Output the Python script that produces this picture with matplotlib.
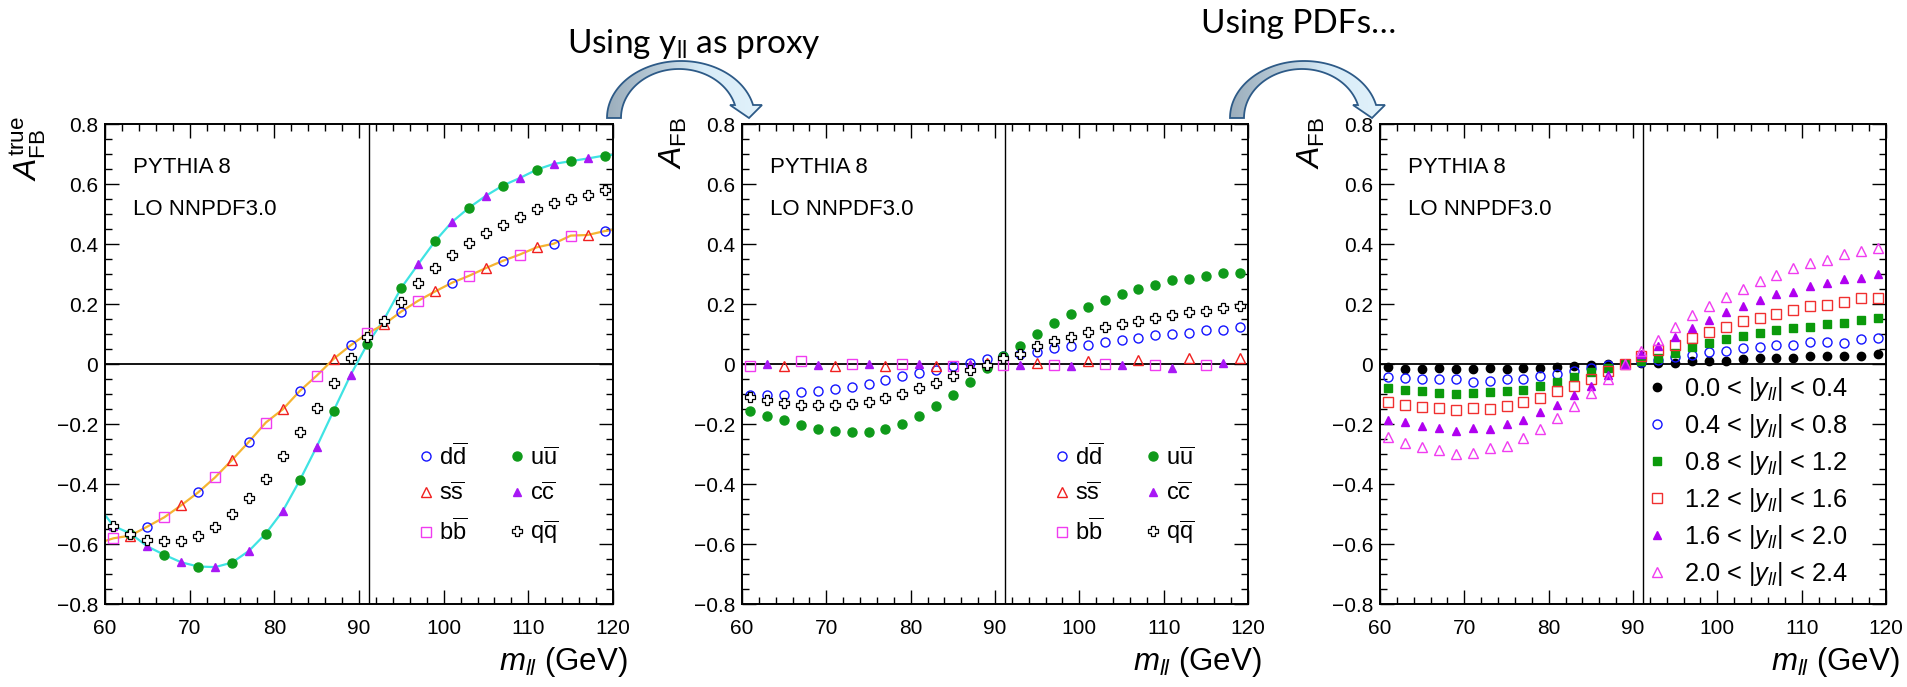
import numpy as np
import matplotlib
matplotlib.use("Agg")
import matplotlib.pyplot as plt
from matplotlib.ticker import MultipleLocator
from matplotlib.patches import PathPatch
from matplotlib.path import Path
from matplotlib.colors import LinearSegmentedColormap

plt.rcParams['font.family'] = ['Liberation Sans', 'DejaVu Sans']
plt.rcParams['mathtext.fontset'] = 'custom'
plt.rcParams['mathtext.rm'] = 'Liberation Sans'
plt.rcParams['mathtext.it'] = 'Liberation Sans:italic'
plt.rcParams['mathtext.bf'] = 'Liberation Sans:bold'

# m_ll bin centres (GeV)
mass = [61, 63, 65, 67, 69, 71, 73, 75, 77, 79, 81, 83, 85, 87, 89,
        91, 93, 95, 97, 99, 101, 103, 105, 107, 109, 111, 113, 115, 117, 119]

# ---- left panel: true A_FB per flavour
d_true_x = [65, 71, 77, 83, 89, 95, 101, 107, 113, 119]
d_true = [-0.542, -0.428, -0.259, -0.090, 0.062, 0.175, 0.271, 0.344, 0.401, 0.443]
s_true_x = [63, 69, 75, 81, 87, 93, 99, 105, 111, 117]
s_true = [-0.572, -0.471, -0.320, -0.151, 0.017, 0.133, 0.242, 0.320, 0.389, 0.430]
b_true_x = [61, 67, 73, 79, 85, 91, 97, 103, 109, 115]
b_true = [-0.581, -0.511, -0.378, -0.195, -0.039, 0.102, 0.211, 0.294, 0.365, 0.428]
u_true_x = [63, 67, 71, 75, 79, 83, 87, 91, 95, 99, 103, 107, 111, 115, 119]
u_true = [-0.565, -0.636, -0.675, -0.662, -0.565, -0.388, -0.156, 0.067, 0.254,
          0.410, 0.521, 0.595, 0.648, 0.676, 0.695]
c_true_x = [61, 65, 69, 73, 77, 81, 85, 89, 93, 97, 101, 105, 109, 113, 117]
c_true = [-0.540, -0.608, -0.661, -0.677, -0.623, -0.490, -0.276, -0.037, 0.151,
          0.333, 0.474, 0.561, 0.620, 0.667, 0.685]
q_true = [-0.540, -0.565, -0.585, -0.591, -0.590, -0.572, -0.544, -0.500, -0.448, -0.382,
          -0.307, -0.227, -0.145, -0.064, 0.021, 0.089, 0.143, 0.208, 0.269, 0.319,
          0.364, 0.403, 0.436, 0.464, 0.491, 0.517, 0.536, 0.551, 0.562, 0.579]
# fit curve end values at 60 and 120 GeV
up_fit_ends = [-0.503, 0.697]
down_fit_ends = [-0.590, 0.447]

# ---- middle panel: A_FB using y_ll as proxy
d_proxy = [-0.102, -0.102, -0.102, -0.094, -0.090, -0.082, -0.076, -0.066, -0.052, -0.041,
           -0.030, -0.019, -0.006, 0.005, 0.017, 0.026, 0.034, 0.040, 0.054, 0.059,
           0.065, 0.075, 0.081, 0.088, 0.097, 0.101, 0.105, 0.113, 0.115, 0.123]
u_proxy = [-0.156, -0.172, -0.188, -0.202, -0.216, -0.223, -0.227, -0.227, -0.218, -0.201,
           -0.173, -0.141, -0.102, -0.061, -0.014, 0.026, 0.061, 0.100, 0.136, 0.166,
           0.191, 0.213, 0.234, 0.251, 0.262, 0.279, 0.283, 0.292, 0.302, 0.304]
q_proxy = [-0.110, -0.120, -0.131, -0.135, -0.138, -0.135, -0.132, -0.125, -0.113, -0.099,
           -0.081, -0.062, -0.041, -0.021, -0.002, 0.020, 0.034, 0.059, 0.076, 0.091,
           0.106, 0.122, 0.133, 0.143, 0.155, 0.163, 0.173, 0.178, 0.186, 0.193]
b_proxy_x = [61, 67, 73, 79, 85, 91, 97, 103, 109, 115]
b_proxy = [-0.008, 0.010, 0.0, 0.0, -0.005, -0.003, -0.002, 0.0, -0.003, -0.002]
s_proxy_x = [65, 71, 77, 83, 89, 95, 101, 107, 113, 119]
s_proxy = [-0.007, -0.005, -0.005, -0.008, 0.003, 0.003, 0.009, 0.014, 0.021, 0.021]
c_proxy_x = [63, 69, 75, 81, 87, 93, 99, 105, 111, 117]
c_proxy = [0.0, -0.004, 0.0, 0.0, 0.0, -0.004, -0.007, -0.004, -0.014, 0.002]

# ---- right panel: A_FB in |y_ll| slices
y_bins = ['0.0 < |$y_{ll}$| < 0.4', '0.4 < |$y_{ll}$| < 0.8', '0.8 < |$y_{ll}$| < 1.2',
          '1.2 < |$y_{ll}$| < 1.6', '1.6 < |$y_{ll}$| < 2.0', '2.0 < |$y_{ll}$| < 2.4']
afb_y00 = [-0.011, -0.016, -0.016, -0.014, -0.016, -0.016, -0.012, -0.016, -0.014, -0.012,
           -0.011, -0.005, -0.004, 0.001, 0.001, 0.004, 0.004, 0.005, 0.009, 0.010,
           0.011, 0.017, 0.019, 0.019, 0.019, 0.026, 0.027, 0.027, 0.027, 0.035]
afb_y04 = [-0.042, -0.046, -0.050, -0.050, -0.051, -0.059, -0.056, -0.050, -0.049, -0.040,
           -0.032, -0.024, -0.014, -0.002, 0.001, 0.006, 0.014, 0.024, 0.031, 0.039,
           0.042, 0.052, 0.057, 0.062, 0.064, 0.074, 0.074, 0.070, 0.085, 0.087]
afb_y08 = [-0.081, -0.085, -0.091, -0.095, -0.099, -0.095, -0.094, -0.090, -0.085, -0.074,
           -0.059, -0.042, -0.025, -0.012, 0.0, 0.010, 0.021, 0.037, 0.056, 0.069,
           0.082, 0.094, 0.102, 0.112, 0.120, 0.125, 0.133, 0.137, 0.146, 0.153]
afb_y12 = [-0.127, -0.136, -0.143, -0.148, -0.153, -0.148, -0.150, -0.141, -0.128, -0.112,
           -0.091, -0.072, -0.049, -0.024, 0.0, 0.027, 0.047, 0.064, 0.087, 0.106,
           0.123, 0.143, 0.155, 0.167, 0.180, 0.192, 0.197, 0.208, 0.219, 0.219]
afb_y16 = [-0.185, -0.192, -0.206, -0.213, -0.222, -0.214, -0.217, -0.201, -0.185, -0.161,
           -0.135, -0.103, -0.074, -0.036, 0.0, 0.032, 0.061, 0.091, 0.120, 0.146,
           0.173, 0.192, 0.212, 0.232, 0.241, 0.261, 0.271, 0.283, 0.287, 0.299]
afb_y20 = [-0.244, -0.263, -0.278, -0.288, -0.299, -0.297, -0.281, -0.274, -0.248, -0.218,
           -0.180, -0.141, -0.095, -0.049, 0.0, 0.045, 0.081, 0.122, 0.162, 0.195,
           0.223, 0.249, 0.276, 0.298, 0.319, 0.338, 0.348, 0.368, 0.377, 0.387]

m_z = 91.19
flavour_labels = [r'$\mathrm{d}\overline{\mathrm{d}}$', r'$\mathrm{s}\overline{\mathrm{s}}$',
                  r'$\mathrm{b}\overline{\mathrm{b}}$', r'$\mathrm{u}\overline{\mathrm{u}}$',
                  r'$\mathrm{c}\overline{\mathrm{c}}$', r'$\mathrm{q}\overline{\mathrm{q}}$']

BLUE, RED, MAG, GREEN, VIOL = '#1414ff', '#f02020', '#f03cf0', '#0f9a1a', '#a818f5'

W, H = 1907, 687
fig = plt.figure(figsize=(W / 100, H / 100), dpi=100)
lefts = [105, 742, 1380]
widths = [508, 506, 506]
axs = [fig.add_axes([l / W, (H - 604) / H, w / W, 480 / H]) for l, w in zip(lefts, widths)]


def style(ax, ylab, ylab_x):
    ax.set_xlim(60, 120)
    ax.set_ylim(-0.8, 0.8)
    ax.set_xticks([60, 70, 80, 90, 100, 110, 120])
    ax.set_yticks([-0.8, -0.6, -0.4, -0.2, 0, 0.2, 0.4, 0.6, 0.8])
    ax.set_yticklabels(['\u22120.8', '\u22120.6', '\u22120.4', '\u22120.2', '0',
                        '0.2', '0.4', '0.6', '0.8'])
    ax.xaxis.set_minor_locator(MultipleLocator(2))
    ax.yaxis.set_minor_locator(MultipleLocator(0.05))
    ax.tick_params(which='both', direction='in', top=True, right=True, width=1.0)
    ax.tick_params(which='major', length=10, labelsize=15)
    ax.tick_params(which='minor', length=5)
    ax.tick_params(axis='x', which='major', pad=11)
    ax.tick_params(axis='y', which='major', pad=5)
    for sp in ax.spines.values():
        sp.set_linewidth(1.4)
    ax.axhline(0, color='black', lw=1.3, zorder=1)
    ax.axvline(m_z, color='black', lw=1.0, zorder=1)
    ax.set_xlabel(r'$m_{ll}$ (GeV)', fontsize=22.5, loc='right')
    ax.xaxis.set_label_coords(1.028, -0.085)
    ax.set_ylabel(ylab, fontsize=23, loc='top')
    ax.yaxis.set_label_coords(ylab_x, 1.015)
    ax.text(0.055, 0.91, 'PYTHIA 8', transform=ax.transAxes, fontsize=16, va='center')
    ax.text(0.055, 0.821, 'LO NNPDF3.0', transform=ax.transAxes, fontsize=16, va='center')


ms = 6.5
open_kw = dict(ls='none', mfc='none', mew=1.0, ms=ms)
cross_kw = dict(ls='none', mfc='white', mec='black', mew=0.9, ms=ms)

# left panel
ax = axs[0]
style(ax, r'$A_{\mathrm{FB}}^{\mathrm{true}}$', -0.112)
up = sorted(zip(u_true_x + c_true_x, u_true + c_true))
dn = sorted(zip(d_true_x + s_true_x + b_true_x, d_true + s_true + b_true))
ax.plot([60] + [p[0] for p in up] + [120], [up_fit_ends[0]] + [p[1] for p in up] + [up_fit_ends[1]],
        color='#3fe3e3', lw=1.6, zorder=2)
ax.plot([60] + [p[0] for p in dn] + [120], [down_fit_ends[0]] + [p[1] for p in dn] + [down_fit_ends[1]],
        color='#f5b431', lw=1.6, zorder=2)
h_d, = ax.plot(d_true_x, d_true, 'o', mec=BLUE, **open_kw)
h_s, = ax.plot(s_true_x, s_true, '^', mec=RED, **open_kw)
h_b, = ax.plot(b_true_x, b_true, 's', mec=MAG, **open_kw)
h_u, = ax.plot(u_true_x, u_true, 'o', color=GREEN, ls='none', ms=ms)
h_c, = ax.plot(c_true_x, c_true, '^', color=VIOL, ls='none', ms=ms - 0.5)
h_q, = ax.plot(mass, q_true, 'P', **cross_kw)
ax.legend([h_d, h_s, h_b, h_u, h_c, h_q], flavour_labels, ncol=2, loc='center left',
          bbox_to_anchor=(0.618, 0.228), frameon=False, fontsize=17, handlelength=0.6,
          handletextpad=0.25, columnspacing=1.8, labelspacing=0.55, borderpad=0, borderaxespad=0)

# middle panel
ax = axs[1]
style(ax, r'$A_{\mathrm{FB}}$', -0.105)
h_d, = ax.plot(mass, d_proxy, 'o', mec=BLUE, **open_kw)
h_s, = ax.plot(s_proxy_x, s_proxy, '^', mec=RED, **open_kw)
h_b, = ax.plot(b_proxy_x, b_proxy, 's', mec=MAG, **open_kw)
h_u, = ax.plot(mass, u_proxy, 'o', color=GREEN, ls='none', ms=ms)
h_c, = ax.plot(c_proxy_x, c_proxy, '^', color=VIOL, ls='none', ms=ms - 0.5)
h_q, = ax.plot(mass, q_proxy, 'P', **cross_kw)
ax.legend([h_d, h_s, h_b, h_u, h_c, h_q], flavour_labels, ncol=2, loc='center left',
          bbox_to_anchor=(0.618, 0.228), frameon=False, fontsize=17, handlelength=0.6,
          handletextpad=0.25, columnspacing=1.8, labelspacing=0.55, borderpad=0, borderaxespad=0)

# right panel
ax = axs[2]
style(ax, r'$A_{\mathrm{FB}}$', -0.105)
hs = []
hs.append(ax.plot(mass, afb_y00, 'o', color='black', ls='none', ms=ms - 0.5)[0])
hs.append(ax.plot(mass, afb_y04, 'o', mec=BLUE, **open_kw)[0])
hs.append(ax.plot(mass, afb_y08, 's', color='#0b9a0b', ls='none', ms=ms - 0.5)[0])
hs.append(ax.plot(mass, afb_y12, 's', mec='#f03030', **open_kw)[0])
hs.append(ax.plot(mass, afb_y16, '^', color='#b000f0', ls='none', ms=ms - 0.5)[0])
hs.append(ax.plot(mass, afb_y20, '^', mec='#f03cf0', **open_kw)[0])
ax.legend(hs, y_bins, loc='center left', bbox_to_anchor=(0.532, 0.255), frameon=False,
          fontsize=18.3, handlelength=0.6, handletextpad=0.75, labelspacing=0.35,
          borderpad=0, borderaxespad=0)

# overlay in pixel coordinates for the slide annotations
ov = fig.add_axes([0, 0, 1, 1], zorder=5)
ov.axis('off')

grad = LinearSegmentedColormap.from_list('arrow', [(0, '#9caebc'), (0.4, '#bfd2df'),
                                                  (0.6, '#d8ecf8'), (1, '#e2f2fb')])


def curved_arrow(x0):
    base, y_head = 118, 105
    cxo, ao, bo = x0 + 74, 74, 57
    cxi, ai, bi = x0 + 72, 58, 49
    to = np.linspace(np.pi, np.arcsin((base - y_head) / bo), 80)
    outer = np.column_stack([cxo + ao * np.cos(to), base - bo * np.sin(to)])
    ti = np.linspace(np.arcsin((base - y_head) / bi), np.pi, 80)
    inner = np.column_stack([cxi + ai * np.cos(ti), base - bi * np.sin(ti)])
    head = np.array([[x0 + 155, y_head], [x0 + 142, base], [x0 + 123, y_head]])
    pts = np.vstack([outer, head, inner, outer[:1]])
    path = Path(pts, closed=True)
    patch = PathPatch(path, facecolor='none', edgecolor='#2d5a87', lw=1.3, zorder=3)
    ov.add_patch(patch)
    im = ov.imshow(np.linspace(0, 1, 256)[None, :], cmap=grad, aspect='auto',
                   extent=(x0, x0 + 160, 120, 58), zorder=2)
    im.set_clip_path(patch)


curved_arrow(607)
curved_arrow(1230)

ov.text(567, 53, r'Using y$_{\mathrm{ll}}$ as proxy', fontsize=24, family=['Lato', 'DejaVu Sans'],
        va='baseline', ha='left')
ov.text(1201, 33, 'Using PDFs\u2026', fontsize=24, family=['Lato', 'DejaVu Sans'],
        va='baseline', ha='left')
ov.set_xlim(0, W)
ov.set_ylim(H, 0)

fig.savefig('out.png', dpi=100)
